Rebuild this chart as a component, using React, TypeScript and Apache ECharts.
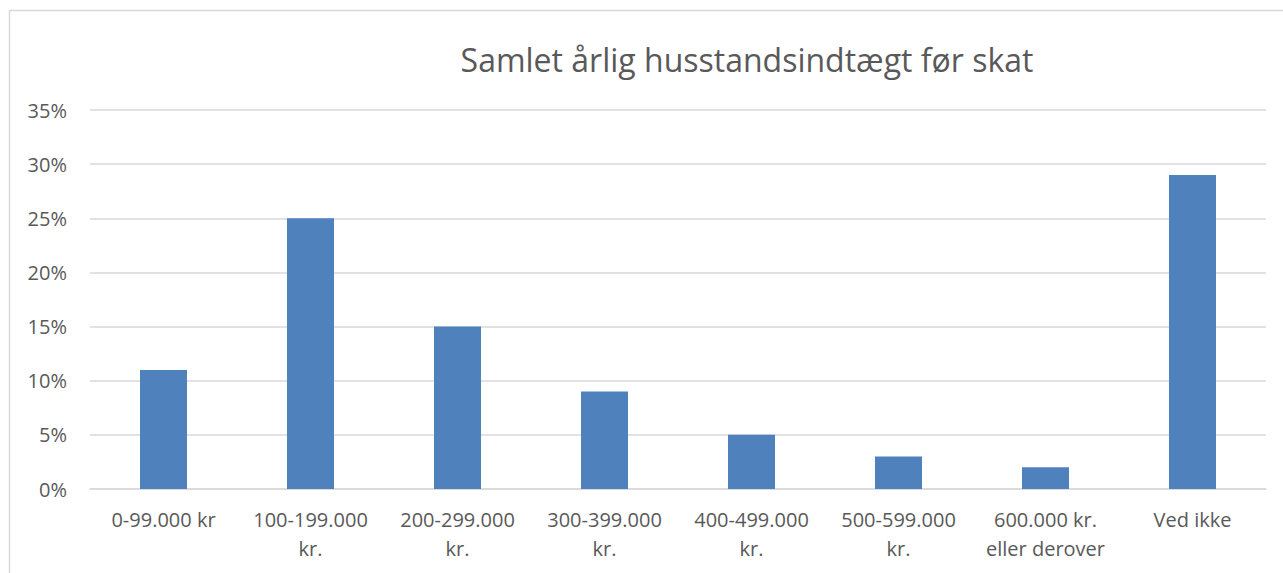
import React, { useEffect, useRef } from "react";
import * as echarts from "echarts";

const categories = [
  "0-99.000 kr",
  "100-199.000\nkr.",
  "200-299.000\nkr.",
  "300-399.000\nkr.",
  "400-499.000\nkr.",
  "500-599.000\nkr.",
  "600.000 kr.\neller derover",
  "Ved ikke",
];
const values = [11, 25, 15, 9, 5, 3, 2, 29];
const titleText = "Samlet årlig husstandsindtægt før skat";

const FONT = "'Open Sans', 'Noto Sans', sans-serif";

export default function App() {
  const ref = useRef<HTMLDivElement>(null);
  useEffect(() => {
    document.body.style.margin = "0";
    const chart = echarts.init(ref.current!, null, { renderer: "svg" });
    chart.setOption({
      animation: false,
      backgroundColor: "#ffffff",
      title: {
        text: titleText,
        left: 742,
        top: 38,
        textAlign: "center",
        textStyle: { fontFamily: FONT, fontSize: 32, fontWeight: "normal", color: "#595959" },
      },
      graphic: [
        {
          type: "rect",
          shape: { x: 9.5, y: 10.5, width: 1300, height: 600 },
          style: { fill: "none", stroke: "#d9d9d9", lineWidth: 1.5 },
          silent: true,
        },
      ],
      grid: { left: 90, right: 17, top: 110, bottom: 84 },
      xAxis: {
        type: "category",
        data: categories,
        axisLine: { lineStyle: { color: "#d9d9d9", width: 1.5 } },
        axisTick: { show: false },
        axisLabel: {
          interval: 0,
          margin: 16,
          fontFamily: FONT,
          fontSize: 20,
          lineHeight: 29,
          color: "#595959",
        },
      },
      yAxis: {
        type: "value",
        min: 0,
        max: 35,
        interval: 5,
        axisLine: { show: false },
        axisTick: { show: false },
        splitLine: { lineStyle: { color: "#d9d9d9", width: 1.5 } },
        axisLabel: {
          margin: 23,
          formatter: "{value}%",
          fontFamily: FONT,
          fontSize: 20,
          color: "#595959",
        },
      },
      series: [
        {
          type: "bar",
          data: values,
          barWidth: 47,
          itemStyle: { color: "#4f81bd" },
        },
      ],
    });
    return () => chart.dispose();
  }, []);
  return <div ref={ref} style={{ width: 1283, height: 573 }} />;
}
